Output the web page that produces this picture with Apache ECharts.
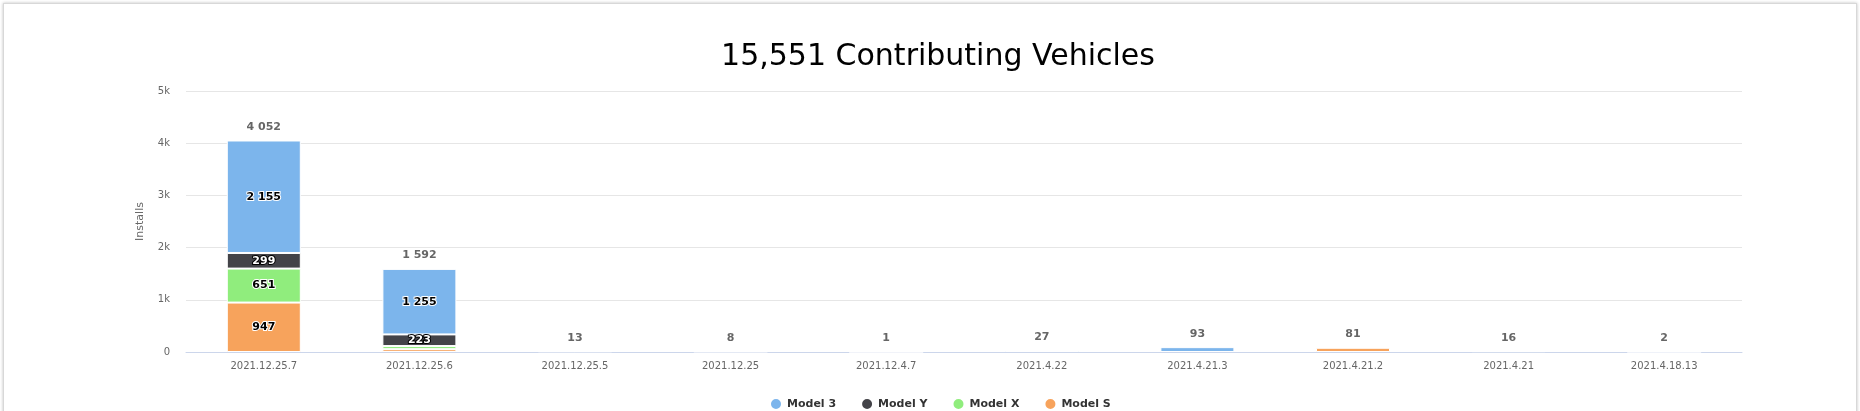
<!DOCTYPE html>
<html>
<head>
<meta charset="utf-8">
<script src="https://cdn.jsdelivr.net/npm/echarts@6/dist/echarts.min.js"></script>
<style>
html,body{margin:0;padding:0;background:#fff;width:1860px;height:411px;overflow:hidden;}
#frame{position:absolute;left:3px;top:3px;width:1852px;height:430px;border:1px solid #d8d8d8;box-shadow:0 0 3px rgba(0,0,0,0.25);}
#chart{position:absolute;left:0;top:0;width:1860px;height:411px;}
</style>
</head>
<body>
<div id="frame"></div>
<div id="chart"></div>
<script>
const categories = ["2021.12.25.7","2021.12.25.6","2021.12.25.5","2021.12.25","2021.12.4.7","2021.4.22","2021.4.21.3","2021.4.21.2","2021.4.21","2021.4.18.13"];
const model3 = [2155, 1255, 13, 8, 1, 27, 93, 0, 16, 2];
const modelY = [299, 223, 0, 0, 0, 0, 0, 0, 0, 0];
const modelX = [651, 60, 0, 0, 0, 0, 0, 0, 0, 0];
const modelS = [947, 54, 0, 0, 0, 0, 0, 81, 0, 0];
const yTicks = [0, 1000, 2000, 3000, 4000, 5000];
const titleText = "15,551 Contributing Vehicles";

const totals = categories.map((c, i) => model3[i] + modelY[i] + modelX[i] + modelS[i]);
const fmtSp = v => String(v).replace(/\B(?=(\d{3})+(?!\d))/g, " ");

const chart = echarts.init(document.getElementById('chart'), null, {renderer: 'canvas'});
function seg(name, data, color, dark) {
  return {
    name: name, type: 'bar', stack: 'a', barWidth: 74,
    data: data.map(v => v === 0 ? '-' : v),
    color: color,
    itemStyle: {color: color, borderColor: '#fff', borderWidth: 1},
    label: {
      show: true, position: 'inside',
      formatter: p => p.value >= 150 ? fmtSp(p.value) : '',
      fontFamily: 'DejaVu Sans', fontSize: 11, fontWeight: 'bold',
      color: dark ? '#fff' : '#000',
      textBorderColor: dark ? '#000' : '#fff', textBorderWidth: 2
    }
  };
}
chart.setOption({
  animation: false,
  title: {
    text: titleText, left: 933, top: 37, textAlign: 'center',
    textStyle: {fontFamily: 'DejaVu Sans', fontSize: 30, fontWeight: 'normal', color: '#000'}
  },
  legend: {
    data: ['Model 3', 'Model Y', 'Model X', 'Model S'],
    left: 764, top: 392, icon: 'circle', itemWidth: 12, itemHeight: 12, itemGap: 24,
    textStyle: {fontFamily: 'DejaVu Sans', fontSize: 11, fontWeight: 'bold', color: '#333'}
  },
  grid: {left: 186, right: 118, top: 91, bottom: 59, containLabel: false},
  xAxis: {
    type: 'category', data: categories,
    axisLine: {lineStyle: {color: '#ccd6eb'}},
    axisTick: {show: false},
    axisLabel: {color: '#666', fontFamily: 'DejaVu Sans', fontSize: 10, margin: 9}
  },
  yAxis: {
    type: 'value', min: yTicks[0], max: yTicks[yTicks.length - 1], interval: 1000,
    name: 'Installs', nameLocation: 'middle', nameGap: 40,
    nameTextStyle: {color: '#666', fontFamily: 'DejaVu Sans', fontSize: 11},
    axisLine: {show: false}, axisTick: {show: false},
    splitLine: {lineStyle: {color: '#e6e6e6'}},
    axisLabel: {color: '#666', fontFamily: 'DejaVu Sans', fontSize: 10, margin: 16,
      formatter: v => v === 0 ? '0' : (v / 1000) + 'k'}
  },
  series: [
    seg('Model S', modelS, '#f7a35c', false),
    seg('Model X', modelX, '#90ed7d', false),
    seg('Model Y', modelY, '#434348', true),
    seg('Model 3', model3, '#7cb5ec', false),
    {
      name: 'Total', type: 'bar', stack: 'a', data: totals.map(() => 0), barWidth: 74,
      itemStyle: {color: 'transparent', borderWidth: 0},
      label: {show: true, position: 'top', distance: 8,
        formatter: p => fmtSp(totals[p.dataIndex]),
        fontFamily: 'DejaVu Sans', fontSize: 11, fontWeight: 'bold', color: '#666'}
    }
  ]
});
</script>
</body>
</html>
